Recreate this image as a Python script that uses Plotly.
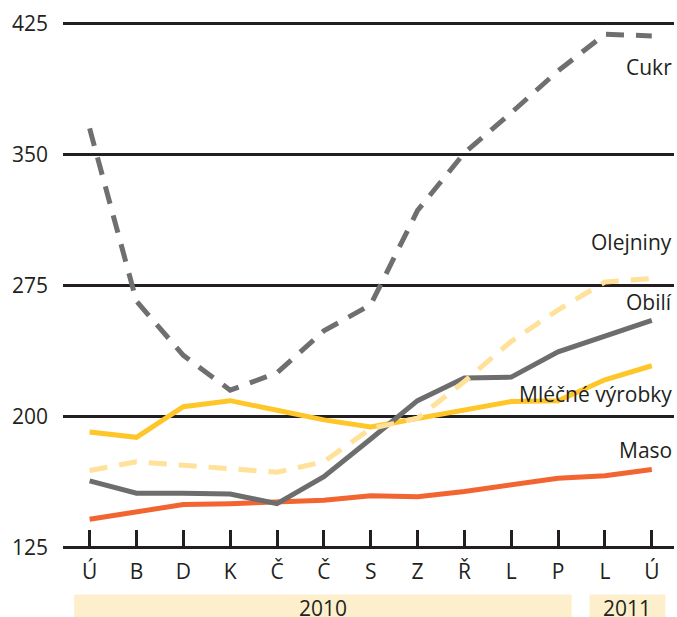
import plotly.graph_objects as go

months = ["Ú", "B", "D", "K", "Č", "Č", "S", "Z", "Ř", "L", "P", "L", "Ú"]
years = ["2010", "2011"]
year_month_counts = [11, 2]

cukr = [365, 266, 235, 215, 225, 249, 264, 318, 351, 374, 398, 419, 418]
olejniny = [169, 174, 172, 170, 168, 174, 193, 199, 220, 243, 261, 277, 279]
obili = [163, 156, 156, 155.5, 150, 165.5, 187, 209, 222, 222.5, 237, 246, 255]
mlecne = [191, 188, 205.5, 209, 203.5, 198, 194, 199, 204, 208.5, 209, 221, 229]
maso = [141, 145, 149.5, 150, 151, 152, 154.5, 154, 157, 161, 164.5, 166, 169.5]

yticks = [125, 200, 275, 350, 425]

x = list(range(len(months)))
INK = "#231f20"
FONT = "Open Sans"

series = [
    ("Maso", maso, "#f26531", "solid", 180.8),
    ("Mléčné výrobky", mlecne, "#ffc629", "solid", 212.7),
    ("Obilí", obili, "#6d6d6d", "solid", 265.5),
    ("Olejniny", olejniny, "#ffe199", "18px,12px", 300),
    ("Cukr", cukr, "#6f6f6f", "18px,12px", 400.3),
]

fig = go.Figure()
for name, vals, color, dash, ly in series:
    fig.add_trace(go.Scatter(
        x=x, y=vals, mode="lines", name=name,
        line=dict(color=color, width=5, dash=dash),
        hoverinfo="skip",
    ))
    fig.add_annotation(
        x=1, xref="paper", xanchor="right", y=ly, yref="y", yanchor="middle",
        text=name, showarrow=False, font=dict(family=FONT, size=21, color=INK),
    )

# year bands below the axis
start = 0
for yr, cnt in zip(years, year_month_counts):
    end = start + cnt - 1
    x0 = start - 0.33
    x1 = end + 0.29
    fig.add_shape(type="rect", xref="x", yref="paper", x0=x0, x1=x1,
                  y0=-0.16, y1=-0.0862, fillcolor="#fdefcb", line_width=0,
                  layer="below")
    fig.add_annotation(x=(x0 + x1) / 2, xref="x", y=-0.0815, yref="paper",
                       yanchor="top", text=yr, showarrow=False,
                       font=dict(family=FONT, size=21, color=INK))
    start += cnt

fig.update_layout(
    width=677, height=617,
    margin=dict(l=63, r=3, t=21.5, b=67.5),
    paper_bgcolor="white", plot_bgcolor="white",
    showlegend=False,
    font=dict(family=FONT, size=21, color=INK),
)
fig.update_xaxes(
    range=[-0.568, 12.474], tickvals=x, ticktext=months,
    showgrid=False, zeroline=False, showline=False,
    ticks="inside", ticklen=19, tickwidth=2.5, tickcolor=INK,
    ticklabelstandoff=8,
    tickfont=dict(family=FONT, size=21, color=INK),
)
fig.update_yaxes(
    range=[124, 426], tickvals=yticks,
    showgrid=True, gridcolor=INK, gridwidth=2.7,
    zeroline=False, showline=False, ticks="",
    ticklabelstandoff=14,
    tickfont=dict(family=FONT, size=21, color=INK),
)

fig.write_html(
    "out.html",
    config={"displayModeBar": False},
    post_script="document.body.style.margin='0';"
                "document.body.style.overflow='hidden';",
)
